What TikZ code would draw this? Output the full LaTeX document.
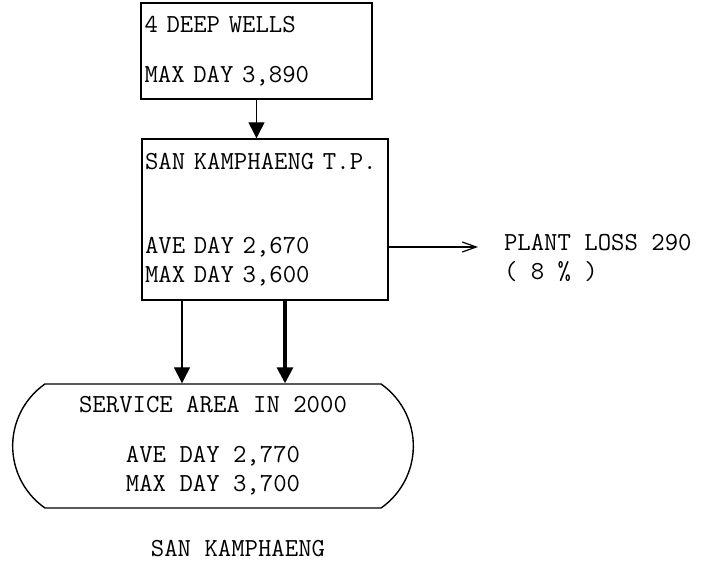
\documentclass[tikz,border=0pt]{standalone}
\usetikzlibrary{shapes.misc, positioning, arrows.meta, calc}

\begin{document}
\begin{tikzpicture}[x=0.5pt, y=-0.5pt,
          every node/.style={font=\ttfamily\fontsize{13}{14.5}\selectfont},
          box/.style={rectangle, draw, line width=0.7pt, inner xsep=1.5pt,
                      align=left},
          area/.style={rounded rectangle, rounded rectangle arc length=110,
                       draw, line width=0.7pt, minimum width=207pt,
                       minimum height=62pt, align=center},
          arr/.style={-{Triangle[length=8pt, width=8pt]}, line width=0.6pt},
          fatarr/.style={arr, line width=1.6pt},
          lossarr/.style={-{Straight Barb[length=7pt, width=5pt]}, line width=0.6pt}
        ]
        \useasboundingbox (0,0) rectangle (723,574);

        % source and treatment plant
        \node[box, minimum width=115.5pt, minimum height=48pt,
              text width=112pt] (wells) at (256.5,51)
              {4 DEEP WELLS\\[10.5pt]MAX DAY 3,890};
        \node[box, minimum width=123pt, minimum height=80.5pt,
              text width=120pt] (plant) at (265,219.5)
              {SAN KAMPHAENG T.P.\\[27.5pt]AVE DAY 2,670\\MAX DAY 3,600};
        \draw[arr] (wells.south) -- (wells.south |- plant.north);

        % plant loss
        \node[align=left, anchor=west] (loss) at (497,258)
              {PLANT LOSS 290\\( 8 \% )};
        \coordinate (lossy) at ([yshift=-13.75pt]plant.east);
        \draw[lossarr, shorten >=9.5pt] (lossy) -- (lossy -| loss.west);

        % service area
        \node[area] (service) at (213,446)
              {SERVICE AREA IN 2000\\[10.5pt]AVE DAY 2,770\\MAX DAY 3,700};
        \coordinate (out1) at ([xshift=-41.5pt]plant.south);
        \coordinate (out2) at ([xshift=10pt]plant.south);
        \draw[arr] (out1) -- (out1 |- service.north);
        \draw[fatarr] (out2) -- (out2 |- service.north);

        \node (city) at (238,549) {SAN KAMPHAENG};
      \end{tikzpicture}
\end{document}
